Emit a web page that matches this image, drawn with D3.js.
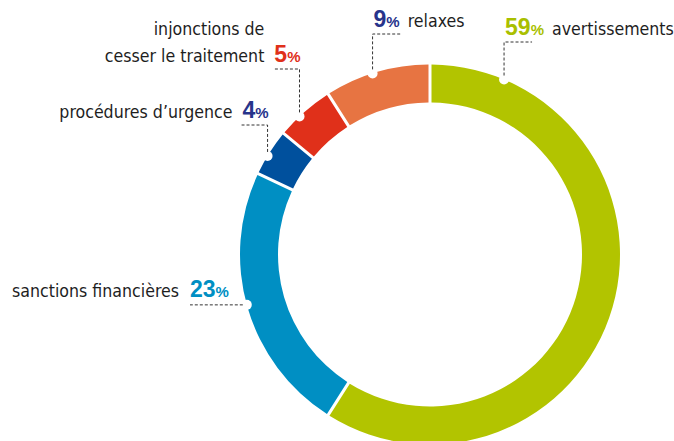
<!DOCTYPE html>
<html>
<head>
<meta charset="utf-8">
<script src="https://cdn.jsdelivr.net/npm/d3@7"></script>
<style>
  html, body { margin: 0; padding: 0; background: #fff; }
  svg { display: block; }
  .name { font-family: "DejaVu Sans Condensed", "DejaVu Sans", sans-serif; font-stretch: condensed; font-size: 17.6px; fill: #1e1e1e; }
  .pct { font-family: "Liberation Sans", Arial, sans-serif; font-weight: bold; font-size: 23px; }
  .pct .sign { font-size: 15px; }
  .leader { fill: none; stroke: #333; stroke-width: 1; stroke-dasharray: 3 2; }
</style>
</head>
<body>
<svg id="chart" width="674" height="441"></svg>
<script>
// Décisions de la formation restreinte, en % (sens horaire depuis le haut)
const categories = ["avertissements", "sanctions financières", "procédures d’urgence", "injonctions de cesser le traitement", "relaxes"];
const nameLines = [["avertissements"], ["sanctions financières"], ["procédures d’urgence"], ["injonctions de", "cesser le traitement"], ["relaxes"]];
const values = [59, 23, 4, 5, 9];
const segmentColors = ["#b2c400", "#008fc3", "#00509d", "#e0301a", "#e77442"];
const pctColors = ["#a9bf00", "#008fc3", "#27348b", "#e0301a", "#27348b"];

// Disposition des étiquettes : position du repère dans le segment, coude de la ligne, côté du texte
const labelLayout = [
  { at: 0.108, elbowY: 42,  side: "right" },
  { at: 0.51,  elbowY: null, side: "left", lineTo: 190 },
  { at: 0.42,  elbowY: 125, side: "left" },
  { at: 0.39,  elbowY: 69,  side: "left" },
  { at: 0.457, elbowY: 34,  side: "right" }
];

const svg = d3.select("#chart");
const cx = 430, cy = 254.5;
const outerR = 190, innerR = 152;

const pie = d3.pie().sort(null).value(d => d)(values);
const arc = d3.arc().innerRadius(innerR).outerRadius(outerR)
  .padAngle(3 / outerR).padRadius(outerR);

const g = svg.append("g").attr("transform", `translate(${cx},${cy})`);

g.selectAll("path.seg")
  .data(pie)
  .join("path")
  .attr("class", "seg")
  .attr("d", arc)
  .attr("fill", (d, i) => segmentColors[i]);

// Repères et étiquettes
pie.forEach((d, i) => {
  const L = labelLayout[i];
  const a = d.startAngle + L.at * (d.endAngle - d.startAngle);
  const px = cx + outerR * Math.sin(a);
  const py = cy - outerR * Math.cos(a);

  // encoche blanche sur le bord extérieur
  svg.append("circle").attr("cx", px).attr("cy", py).attr("r", 5).attr("fill", "#fff");

  const pct = svg.append("text").attr("class", "pct").attr("fill", pctColors[i]);
  pct.append("tspan").text(values[i]);
  pct.append("tspan").attr("class", "sign").text("%");

  if (L.elbowY === null) {
    // ligne horizontale seule
    const ly = py;
    const x0 = L.lineTo;
    svg.append("path").attr("class", "leader")
      .attr("d", `M${px - 4},${ly}H${x0}`);
    pct.attr("x", x0).attr("y", ly - 8);
    svg.append("text").attr("class", "name")
      .attr("x", x0 - 11).attr("y", ly - 8).attr("text-anchor", "end")
      .text(nameLines[i][0]);
    return;
  }

  const ey = L.elbowY;
  const baseY = ey - 7;
  if (L.side === "right") {
    pct.attr("x", px + 1).attr("y", baseY);
    const w = pct.node().getComputedTextLength();
    svg.append("path").attr("class", "leader")
      .attr("d", `M${px},${py - 4}V${ey}H${px + 28}`);
    svg.append("text").attr("class", "name")
      .attr("x", px + 1 + w + 8).attr("y", baseY)
      .text(nameLines[i][0]);
  } else {
    pct.attr("x", px + 1).attr("y", baseY).attr("text-anchor", "end");
    const w = pct.node().getComputedTextLength();
    svg.append("path").attr("class", "leader")
      .attr("d", `M${px},${py - 4}V${ey}H${px - 26}`);
    const lines = nameLines[i];
    lines.forEach((t, k) => {
      svg.append("text").attr("class", "name")
        .attr("x", px + 1 - w - 10)
        .attr("y", baseY - (lines.length - 1 - k) * 27)
        .attr("text-anchor", "end")
        .text(t);
    });
  }
});
</script>
</body>
</html>
